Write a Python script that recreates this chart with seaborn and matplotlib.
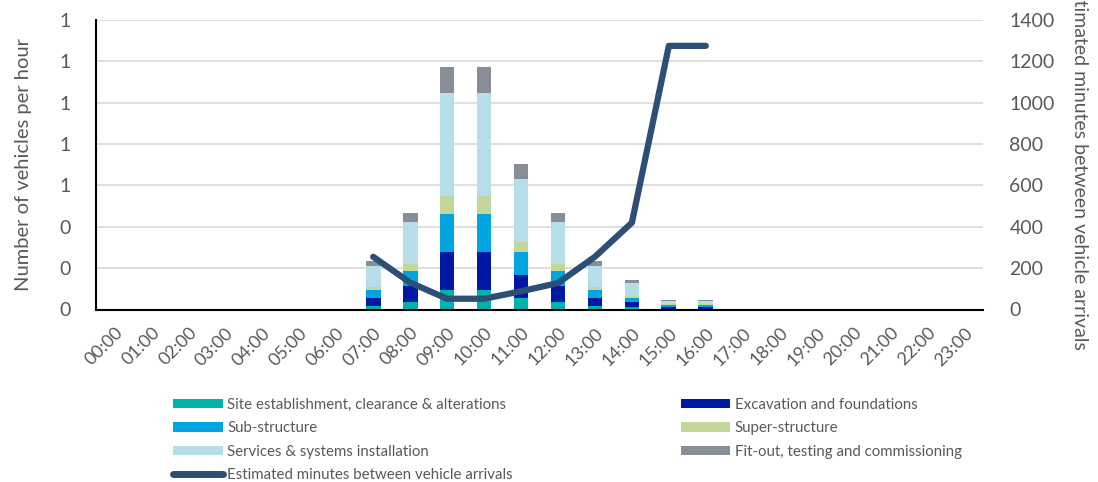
import numpy as np
import pandas as pd
import matplotlib
matplotlib.use("Agg")
import matplotlib.pyplot as plt
from matplotlib.patches import Patch
from matplotlib.lines import Line2D
from matplotlib.ticker import FormatStrFormatter, MultipleLocator
import seaborn as sns

hours = [f"{h:02d}:00" for h in range(24)]

# vehicles per hour by work package (hours 00-23)
site =     [0,0,0,0,0,0,0,0.019,0.037,0.092,0.092,0.056,0.037,0.019,0.013,0.004,0.004,0,0,0,0,0,0,0]
excav =    [0,0,0,0,0,0,0,0.037,0.075,0.185,0.185,0.109,0.075,0.037,0.022,0.009,0.009,0,0,0,0,0,0,0]
substr =   [0,0,0,0,0,0,0,0.037,0.072,0.185,0.185,0.111,0.072,0.037,0.019,0.009,0.009,0,0,0,0,0,0,0]
superstr = [0,0,0,0,0,0,0,0.018,0.036,0.085,0.085,0.052,0.036,0.018,0.013,0.004,0.004,0,0,0,0,0,0,0]
services = [0,0,0,0,0,0,0,0.098,0.201,0.502,0.502,0.301,0.201,0.098,0.061,0.017,0.017,0,0,0,0,0,0,0]
fitout =   [0,0,0,0,0,0,0,0.027,0.048,0.123,0.123,0.074,0.048,0.027,0.016,0.005,0.005,0,0,0,0,0,0,0]

line_hours = ["07:00","08:00","09:00","10:00","11:00","12:00","13:00","14:00","15:00","16:00"]
minutes = [255, 130, 52, 52, 88, 128, 255, 420, 1275, 1275]

series_names = ["Site establishment, clearance & alterations", "Excavation and foundations",
                "Sub-structure", "Super-structure", "Services & systems installation",
                "Fit-out, testing and commissioning"]
series_vals = [site, excav, substr, superstr, services, fitout]
colors = ["#00B2A9", "#0019A5", "#00A5E0", "#C4D79B", "#B7DDE8", "#878E98"]
line_color = "#2D4E75"
line_name = "Estimated minutes between vehicle arrivals"

sns.set_theme(style="white")
plt.rcParams['font.family'] = ['Lato', 'DejaVu Sans']
txt = "#595959"

fig = plt.figure(figsize=(10.98, 4.82), dpi=100)
ax = fig.add_axes([96/1098, 1-309.5/482, (983-96)/1098, (309.5-20)/482])

bottom = np.zeros(len(hours))
for name, vals, c in zip(series_names, series_vals, colors):
    df = pd.DataFrame({"hour": hours, "v": vals})
    sns.barplot(data=df, x="hour", y="v", color=c, bottom=bottom, width=0.4,
                ax=ax, order=hours, saturation=1, linewidth=0)
    bottom = bottom + np.array(vals)

ax.set_ylim(0, 1.4)
ax.set_xlim(-0.5, 23.5)
ax.yaxis.set_major_locator(MultipleLocator(0.2))
ax.yaxis.set_major_formatter(FormatStrFormatter("%.0f"))
ax.grid(axis="y", color="#D9D9D9", linewidth=1.2)
ax.set_axisbelow(True)
for s in ["top", "right"]:
    ax.spines[s].set_visible(False)
for s in ["left", "bottom"]:
    ax.spines[s].set_color("black")
    ax.spines[s].set_linewidth(1.5)
ax.tick_params(axis="y", length=0, labelsize=14, colors=txt, pad=18)
ax.tick_params(axis="x", length=0, labelsize=13, colors=txt, pad=11)
ax.set_xticks(range(24))
ax.set_xticklabels(hours, rotation=45, ha="right", rotation_mode="anchor")
ax.set_xlabel("")
ax.set_ylabel("Number of vehicles per hour", fontsize=14.5, color=txt, labelpad=20)

ax2 = ax.twinx()
lx = [hours.index(h) for h in line_hours]
sns.lineplot(x=lx, y=minutes, ax=ax2, color=line_color, linewidth=4.5)
ax2.set_ylim(0, 1400)
ax2.yaxis.set_major_locator(MultipleLocator(200))
for s in ["top", "right", "left", "bottom"]:
    ax2.spines[s].set_visible(False)
ax2.tick_params(axis="y", length=0, labelsize=14, colors=txt, pad=19)
ax2.set_ylabel(line_name, fontsize=14, color=txt, rotation=270, labelpad=24)
ax2.set_xlim(-0.5, 23.5)

handles = {n: Patch(facecolor=c, edgecolor="none") for n, c in zip(series_names, colors)}
lh = Line2D([0], [0], color=line_color, linewidth=5, solid_capstyle="round")
order = [series_names[0], series_names[2], series_names[4], line_name,
         series_names[1], series_names[3], series_names[5]]
hs = [handles.get(n, lh) for n in order]
fig.legend(hs, order, loc="upper left", bbox_to_anchor=(173/1098, 1-398/482), ncol=2,
           frameon=False, fontsize=10.8, handlelength=3.3, handleheight=0.6,
           handletextpad=0.3, columnspacing=11.2, labelspacing=0.62,
           labelcolor=txt, borderpad=0, borderaxespad=0)

fig.savefig("out.png", dpi=100)
